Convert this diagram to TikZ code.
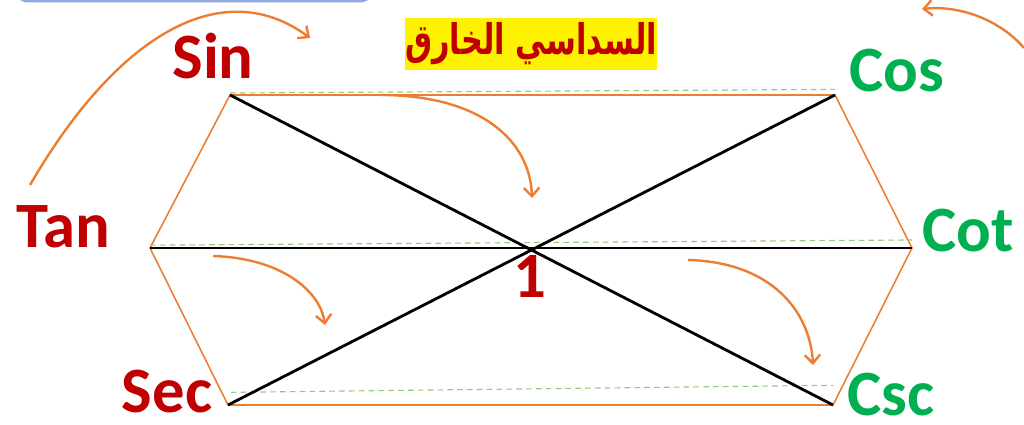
\documentclass[tikz,border=0pt]{standalone}
\usepackage{fontspec}
\setmainfont{Carlito}
\newfontfamily\arabicfont[Script=Arabic]{DejaVu Sans}
\TeXXeTstate=1
\usetikzlibrary{arrows.meta}
\definecolor{edgeorange}{RGB}{237,125,49}
\definecolor{labelred}{RGB}{192,0,0}
\definecolor{labelgreen}{RGB}{0,176,80}
\definecolor{guidegreen}{RGB}{150,200,125}
\definecolor{frameblue}{RGB}{143,170,220}

\begin{document}
\begin{tikzpicture}[x=0.025cm, y=-0.025cm,
    redlabel/.style={text=labelred, inner sep=1pt, font=\fontsize{46}{50}\selectfont\bfseries},
    greenlabel/.style={text=labelgreen, inner sep=1pt, font=\fontsize{46}{50}\selectfont\bfseries},
    edge/.style={edgeorange, line width=1.1pt},
    diag/.style={black, line width=2pt},
    guide/.style={guidegreen, dash pattern=on 4pt off 3pt, line width=0.8pt},
    turn/.style={edgeorange, line width=1.7pt, -{Straight Barb[length=6pt,width=11pt]}}]

\useasboundingbox (0,0) rectangle (1024,425);
\clip (0,0) rectangle (1024,425);

% Frame at the top
\draw[frameblue, line width=2pt, rounded corners=4pt] (20,-20) -- (20,1) -- (368,1) -- (368,-20);

% Vertices
\coordinate (sin) at (230,95);
\coordinate (cos) at (835,95);
\coordinate (tan) at (150,248);
\coordinate (cot) at (912,248);
\coordinate (sec) at (228,405);
\coordinate (csc) at (833,405);

% Hexagon
\draw[edge] (sin) -- (cos) -- (cot) -- (csc) -- (sec) -- (tan) -- cycle;

% Guides
\draw[guide] ([yshift=1.4pt]sin) -- ([yshift=4pt]cos);
\draw[guide] ([yshift=2pt]tan) -- ([yshift=5.7pt]cot);
\draw[guide] ([xshift=2pt,yshift=9pt]sec) -- ([yshift=14pt]csc);

% Diagonals
\draw[diag] (sin) -- (csc);
\draw[diag] (cos) -- (sec);
\draw[diag] (tan) -- (cot);

% Labels
\node[redlabel] (lsin) at (213,56) {Sin};
\node[greenlabel] (lcos) at (897,71) {Cos};
\node[redlabel] (ltan) at (63,227) {Tan};
\node[greenlabel] (lcot) at (968,231) {Cot};
\node[redlabel] (lsec) at (167,392) {Sec};
\node[greenlabel] (lcsc) at (891,395) {Csc};
\node[redlabel] (lone) at (530,276) {1};

% Title
\node[fill=yellow, minimum width=6.275cm, minimum height=1.3cm, inner sep=0pt,
      text=labelred, font=\arabicfont\fontsize{30}{34}\selectfont\bfseries]
      (title) at (531,44) {\scalebox{0.72}[1]{\beginR السداسي الخارق\endR}};

% Arrows
\coordinate (a1) at (30,185);  \coordinate (b1) at (310,38);
\coordinate (a2) at (1024,48); \coordinate (b2) at (922,9);
\coordinate (a3) at (380,95);  \coordinate (b3) at (532,198);
\coordinate (a4) at (213,256); \coordinate (b4) at (325,325);
\coordinate (a5) at (688,260); \coordinate (b5) at (813,365);
\draw[turn] (a1) .. controls (120,30) and (225,-25) .. (b1);
\draw[turn] (a2) .. controls (1000,20) and (960,5) .. (b2);
\draw[turn] (a3) .. controls (480,95) and (530,140) .. (b3);
\draw[turn] (a4) .. controls (280,258) and (320,290) .. (b4);
\draw[turn] (a5) .. controls (770,262) and (810,310) .. (b5);

\end{tikzpicture}
\end{document}
